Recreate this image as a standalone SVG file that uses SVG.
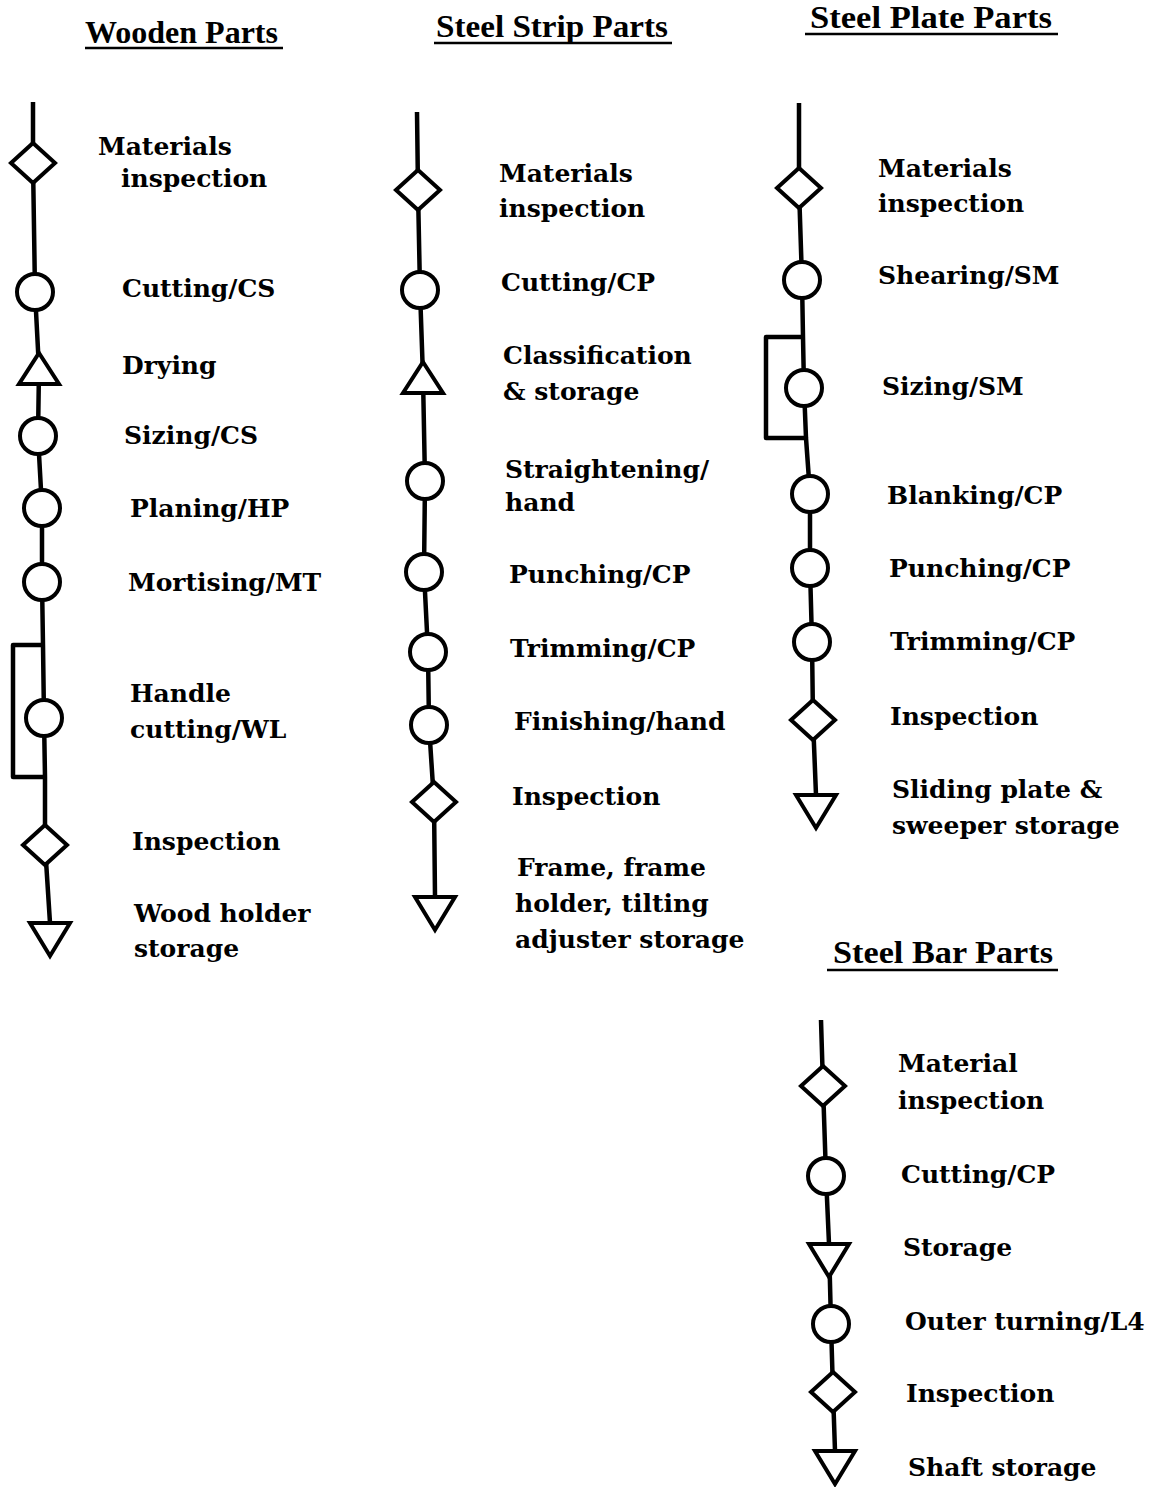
<svg xmlns="http://www.w3.org/2000/svg" width="1151" height="1487" viewBox="0 0 1151 1487">
  <style>
    .bg { fill: #ffffff; }
    .flow { fill: none; stroke: #000; stroke-width: 4.5; stroke-linejoin: round; stroke-linecap: butt; }
    .sym { fill: #ffffff; stroke: #000; stroke-width: 4; stroke-linejoin: miter; }
    .lbl { font-family: "DejaVu Serif", "Liberation Serif", serif; font-weight: bold; font-size: 25px; fill: #000; }
    .head { font-family: "Liberation Serif", "DejaVu Serif", serif; font-weight: bold; font-size: 31px; fill: #000; }
    .uline { stroke: #000; stroke-width: 2.5; }
  </style>
  <defs>
    <circle id="op" r="18" class="sym"/>
    <polygon id="insp" points="0,-20 22,0 0,20 -22,0" class="sym"/>
    <polygon id="store" points="-20,0 20,0 0,33" class="sym"/>
    <polygon id="hold" points="0,0 20,31 -20,31" class="sym"/>
  </defs>
  <rect class="bg" x="0" y="0" width="1151" height="1487"/>

  <!-- Column headings -->
  <g id="headings">
    <g id="h-wooden">
      <text class="head" x="85" y="43" textLength="193" lengthAdjust="spacingAndGlyphs">Wooden Parts</text>
      <line class="uline" x1="85" y1="48" x2="283" y2="48"/>
    </g>
    <g id="h-strip">
      <text class="head" x="436" y="37" textLength="232" lengthAdjust="spacingAndGlyphs">Steel Strip Parts</text>
      <line class="uline" x1="434" y1="43" x2="672" y2="43"/>
    </g>
    <g id="h-plate">
      <text class="head" x="810" y="28" textLength="242" lengthAdjust="spacingAndGlyphs">Steel Plate Parts</text>
      <line class="uline" x1="805" y1="34" x2="1058" y2="34"/>
    </g>
    <g id="h-bar">
      <text class="head" x="833" y="963" textLength="220" lengthAdjust="spacingAndGlyphs">Steel Bar Parts</text>
      <line class="uline" x1="827" y1="970" x2="1058" y2="970"/>
    </g>
  </g>

  <!-- Flow lines (drawn under the symbols) -->
  <g id="connectors">
    <polyline class="flow" points="33,102 33,163 35,292 39,369 38,436 42,508 42,582 43,645 44,718 45,777 45,845 50,923"/>
    <polyline class="flow" points="43,645 13,645 13,777 45,777"/>
    <polyline class="flow" points="417,112 418,190 420,290 423,377 425,481 424,572 428,652 429,725 434,802 435,897"/>
    <polyline class="flow" points="799,103 799,188 802,280 803,337 804,388 806,438 810,494 810,568 812,642 813,720 816,795"/>
    <polyline class="flow" points="803,337 766,337 766,438 806,438"/>
    <polyline class="flow" points="821,1020 823,1086 826,1176 829,1244 831,1324 833,1392 835,1451"/>
  </g>

  <!-- Wooden parts -->
  <g id="wood-mat-insp"><use href="#insp" x="33" y="163"/><text class="lbl" x="98" y="155">Materials</text><text class="lbl" x="121" y="187">inspection</text></g>
  <g id="wood-cutting"><use href="#op" x="35" y="292"/><text class="lbl" x="122" y="297">Cutting/CS</text></g>
  <g id="wood-drying"><use href="#hold" x="39" y="353"/><text class="lbl" x="122" y="374">Drying</text></g>
  <g id="wood-sizing"><use href="#op" x="38" y="436"/><text class="lbl" x="124" y="444">Sizing/CS</text></g>
  <g id="wood-planing"><use href="#op" x="42" y="508"/><text class="lbl" x="130" y="517">Planing/HP</text></g>
  <g id="wood-mortising"><use href="#op" x="42" y="582"/><text class="lbl" x="128" y="591">Mortising/MT</text></g>
  <g id="wood-handle"><use href="#op" x="44" y="718"/><text class="lbl" x="130" y="702">Handle</text><text class="lbl" x="130" y="738">cutting/WL</text></g>
  <g id="wood-insp"><use href="#insp" x="45" y="845"/><text class="lbl" x="132" y="850">Inspection</text></g>
  <g id="wood-storage"><use href="#store" x="50" y="923"/><text class="lbl" x="134" y="922">Wood holder</text><text class="lbl" x="134" y="957">storage</text></g>

  <!-- Steel strip parts -->
  <g id="strip-mat-insp"><use href="#insp" x="418" y="190"/><text class="lbl" x="499" y="182">Materials</text><text class="lbl" x="499" y="217">inspection</text></g>
  <g id="strip-cutting"><use href="#op" x="420" y="290"/><text class="lbl" x="501" y="291">Cutting/CP</text></g>
  <g id="strip-class"><use href="#hold" x="423" y="362"/><text class="lbl" x="503" y="364">Classification</text><text class="lbl" x="503" y="400">&amp; storage</text></g>
  <g id="strip-straight"><use href="#op" x="425" y="481"/><text class="lbl" x="505" y="478">Straightening/</text><text class="lbl" x="505" y="511">hand</text></g>
  <g id="strip-punching"><use href="#op" x="424" y="572"/><text class="lbl" x="509" y="583">Punching/CP</text></g>
  <g id="strip-trimming"><use href="#op" x="428" y="652"/><text class="lbl" x="510" y="657">Trimming/CP</text></g>
  <g id="strip-finishing"><use href="#op" x="429" y="725"/><text class="lbl" x="514" y="730">Finishing/hand</text></g>
  <g id="strip-insp"><use href="#insp" x="434" y="802"/><text class="lbl" x="512" y="805">Inspection</text></g>
  <g id="strip-storage"><use href="#store" x="435" y="897"/><text class="lbl" x="517" y="876">Frame, frame</text><text class="lbl" x="515" y="912">holder, tilting</text><text class="lbl" x="515" y="948">adjuster storage</text></g>

  <!-- Steel plate parts -->
  <g id="plate-mat-insp"><use href="#insp" x="799" y="188"/><text class="lbl" x="878" y="177">Materials</text><text class="lbl" x="878" y="212">inspection</text></g>
  <g id="plate-shearing"><use href="#op" x="802" y="280"/><text class="lbl" x="878" y="284">Shearing/SM</text></g>
  <g id="plate-sizing"><use href="#op" x="804" y="388"/><text class="lbl" x="882" y="395">Sizing/SM</text></g>
  <g id="plate-blanking"><use href="#op" x="810" y="494"/><text class="lbl" x="887" y="504">Blanking/CP</text></g>
  <g id="plate-punching"><use href="#op" x="810" y="568"/><text class="lbl" x="889" y="577">Punching/CP</text></g>
  <g id="plate-trimming"><use href="#op" x="812" y="642"/><text class="lbl" x="890" y="650">Trimming/CP</text></g>
  <g id="plate-insp"><use href="#insp" x="813" y="720"/><text class="lbl" x="890" y="725">Inspection</text></g>
  <g id="plate-storage"><use href="#store" x="816" y="795"/><text class="lbl" x="892" y="798">Sliding plate &amp;</text><text class="lbl" x="892" y="834">sweeper storage</text></g>

  <!-- Steel bar parts -->
  <g id="bar-mat-insp"><use href="#insp" x="823" y="1086"/><text class="lbl" x="898" y="1072">Material</text><text class="lbl" x="898" y="1109">inspection</text></g>
  <g id="bar-cutting"><use href="#op" x="826" y="1176"/><text class="lbl" x="901" y="1183">Cutting/CP</text></g>
  <g id="bar-storage"><use href="#store" x="829" y="1244"/><text class="lbl" x="903" y="1256">Storage</text></g>
  <g id="bar-turning"><use href="#op" x="831" y="1324"/><text class="lbl" x="905" y="1330">Outer turning/L4</text></g>
  <g id="bar-insp"><use href="#insp" x="833" y="1392"/><text class="lbl" x="906" y="1402">Inspection</text></g>
  <g id="bar-shaft"><use href="#store" x="835" y="1451"/><text class="lbl" x="908" y="1476">Shaft storage</text></g>
</svg>
